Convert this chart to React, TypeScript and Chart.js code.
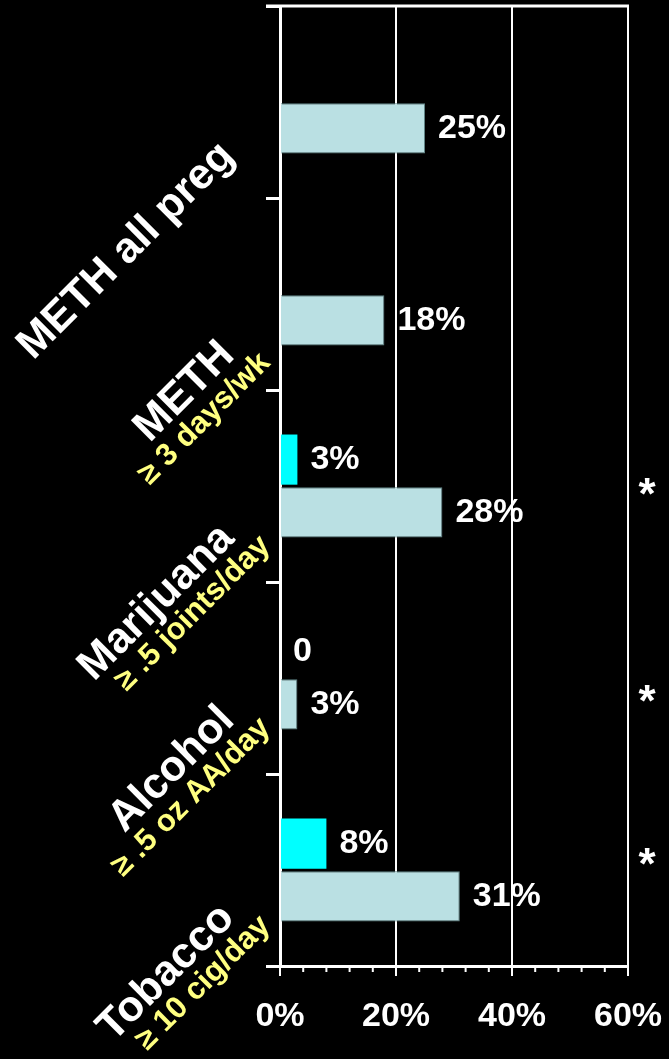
import React, { useEffect, useRef } from "react";
import { Chart, registerables } from "chart.js";
Chart.register(...registerables);

const categories = ["METH all preg", "METH", "Marijuana", "Alcohol", "Tobacco"];
const subLabels = ["", "≥ 3 days/wk", "≥ .5 joints/day", "≥ .5 oz AA/day", "≥ 10 cig/day"];
const cyanValues: (number | null)[] = [null, null, 3, 0, 8];
const lightValues: number[] = [25, 18, 28, 3, 31];
const xTickValues = [0, 20, 40, 60];
const minorTickStep = 4;
const starCategories = ["Marijuana", "Alcohol", "Tobacco"];

const FONT = '"Liberation Sans", Arial, Helvetica, sans-serif';

const labelDy = [56, 63, 54, 44, 50];
const starDy = [2, 17, -12];

const decorPlugin = {
  id: "decor",
  afterDraw(chart: any) {
    const ctx = chart.ctx;
    const xs = chart.scales.x;
    const ys = chart.scales.y;
    const area = chart.chartArea;
    ctx.save();
    // top frame line
    ctx.strokeStyle = "#fff";
    ctx.lineWidth = 3;
    ctx.beginPath();
    ctx.moveTo(area.left - 14, area.top);
    ctx.lineTo(area.right + 1, area.top);
    ctx.stroke();
    // minor ticks
    ctx.lineWidth = 2;
    for (let v = xs.min; v <= xs.max; v += minorTickStep) {
      if (xTickValues.includes(v)) continue;
      const px = xs.getPixelForValue(v);
      ctx.beginPath();
      ctx.moveTo(px, area.bottom);
      ctx.lineTo(px, area.bottom + 6);
      ctx.stroke();
    }
    // category labels
    categories.forEach((c, i) => {
      const y = ys.getPixelForValue(i) + labelDy[i];
      ctx.save();
      ctx.translate(236, y);
      ctx.rotate(-Math.PI / 4);
      ctx.textAlign = "right";
      ctx.textBaseline = "alphabetic";
      ctx.fillStyle = "#fff";
      ctx.font = `bold 43px ${FONT}`;
      ctx.fillText(c, 0, 0);
      if (subLabels[i]) {
        ctx.fillStyle = "#FFFF80";
        ctx.font = `bold 31px ${FONT}`;
        ctx.fillText(subLabels[i], 20, 30);
      }
      ctx.restore();
    });
    // stars
    ctx.fillStyle = "#fff";
    ctx.font = `bold 44px ${FONT}`;
    ctx.textAlign = "center";
    ctx.textBaseline = "middle";
    starCategories.forEach((c, k) => {
      const i = categories.indexOf(c);
      const y = ys.getPixelForValue(i) + starDy[k];
      ctx.fillText("*", area.right + 19, y + 9);
    });
    ctx.restore();
  },
  afterDatasetsDraw(chart: any) {
    const ctx = chart.ctx;
    ctx.save();
    ctx.fillStyle = "#fff";
    ctx.font = `bold 34px ${FONT}`;
    ctx.textAlign = "left";
    ctx.textBaseline = "middle";
    chart.data.datasets.forEach((ds: any, di: number) => {
      const meta = chart.getDatasetMeta(di);
      meta.data.forEach((bar: any, i: number) => {
        const v = ds.data[i];
        if (v === null || v === undefined) return;
        ctx.fillText(v === 0 ? "0" : v + "%", bar.x + 13, bar.y);
      });
    });
    ctx.restore();
  },
};

export default function App() {
  const ref = useRef<HTMLCanvasElement>(null);
  useEffect(() => {
    document.body.style.margin = "0";
    document.body.style.background = "#000";
    const chart = new Chart(ref.current!, {
      type: "bar",
      data: {
        labels: categories,
        datasets: [
          {
            data: cyanValues,
            backgroundColor: "#00FFFF",
            borderWidth: 0,
            categoryPercentage: 0.55,
            barPercentage: 0.95,
          },
          {
            data: lightValues,
            backgroundColor: "#BAE0E3",
            borderColor: "#5F8385",
            borderWidth: 1,
            categoryPercentage: 0.55,
            barPercentage: 0.95,
          },
        ],
      },
      options: {
        indexAxis: "y",
        responsive: false,
        animation: false,
        devicePixelRatio: 1,
        layout: { padding: { top: 6, right: 41, left: 0, bottom: 0 } },
        plugins: { legend: { display: false }, tooltip: { enabled: false }, title: { display: false } },
        scales: {
          x: {
            min: 0,
            max: 60,
            afterBuildTicks: (s: any) => {
              s.ticks = xTickValues.map((v) => ({ value: v }));
            },
            ticks: {
              color: "#fff",
              font: { family: FONT, size: 34, weight: "bold" },
              padding: 20,
              maxRotation: 0,
              callback: (v: any) => v + "%",
            },
            grid: { color: "#fff", lineWidth: 2, tickLength: 10, drawTicks: true },
            border: { color: "#fff", width: 3 },
            afterFit: (s: any) => {
              s.height = 93;
              s.paddingRight = 0;
              s.paddingLeft = 0;
            },
          },
          y: {
            type: "category",
            offset: true,
            grid: { offset: true, drawOnChartArea: false, color: "#fff", lineWidth: 3, tickLength: 14 },
            border: { color: "#fff", width: 3 },
            ticks: { display: false },
            afterFit: (s: any) => {
              s.width = 280;
            },
          },
        },
      },
      plugins: [decorPlugin],
    } as any);
    return () => chart.destroy();
  }, []);
  return (
    <div style={{ width: 669, height: 1059, background: "#000" }}>
      <canvas ref={ref} width={669} height={1059} style={{ display: "block" }} />
    </div>
  );
}
